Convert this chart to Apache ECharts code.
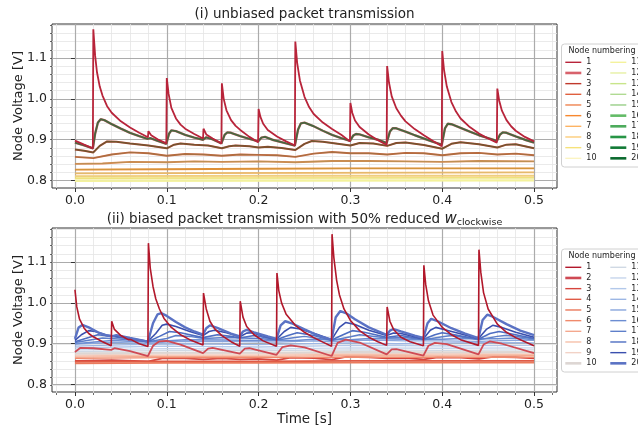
<!DOCTYPE html>
<html><head><meta charset="utf-8">
<script src="https://cdn.jsdelivr.net/npm/echarts@6/dist/echarts.min.js"></script>
<style>html,body{margin:0;padding:0;background:#fff}#c{width:638px;height:427px}</style>
</head><body><div id="c"></div>
<script>
// ---------- tick labels / names ----------
const nodeLabels = ['1','2','3','4','5','6','7','8','9','10','11','12','13','14','15','16','17','18','19','20'];

// ---------- (i) unbiased: node 1 and symmetric pairs (k, 22-k) ----------
const top1 = [[0,0.898],[0.01,0.888],[0.0195,0.879],[0.02,1.17],[0.022,1.105],[0.024,1.065],[0.027,1.03],[0.03,1.008],[0.035,0.982],[0.04,0.966],[0.05,0.945],[0.06,0.93],[0.07,0.917],[0.0795,0.906],[0.08,0.921],[0.083,0.911],[0.09,0.901],[0.0995,0.891],[0.1,1.051],[0.102,1.012],[0.105,0.978],[0.11,0.952],[0.115,0.937],[0.12,0.927],[0.13,0.914],[0.1395,0.903],[0.14,0.927],[0.143,0.913],[0.15,0.903],[0.1595,0.891],[0.16,1.038],[0.162,1.0],[0.165,0.972],[0.17,0.948],[0.175,0.934],[0.18,0.924],[0.19,0.907],[0.1995,0.894],[0.2,0.975],[0.202,0.956],[0.205,0.939],[0.21,0.924],[0.22,0.908],[0.23,0.896],[0.2395,0.886],[0.24,1.14],[0.242,1.088],[0.245,1.045],[0.25,1.005],[0.255,0.98],[0.26,0.963],[0.27,0.942],[0.28,0.926],[0.29,0.912],[0.2995,0.896],[0.3,0.99],[0.302,0.966],[0.305,0.947],[0.31,0.931],[0.32,0.913],[0.33,0.899],[0.3395,0.887],[0.34,1.08],[0.342,1.04],[0.345,1.006],[0.35,0.977],[0.355,0.959],[0.36,0.945],[0.37,0.926],[0.38,0.911],[0.39,0.897],[0.3995,0.884],[0.4,1.117],[0.402,1.07],[0.405,1.03],[0.41,0.992],[0.415,0.969],[0.42,0.952],[0.43,0.931],[0.44,0.915],[0.45,0.903],[0.4595,0.893],[0.46,1.025],[0.462,0.996],[0.465,0.971],[0.47,0.948],[0.475,0.933],[0.48,0.922],[0.49,0.907],[0.5,0.896]];
const topP2 = [[0,0.893],[0.01,0.886],[0.0195,0.879],[0.022,0.915],[0.025,0.942],[0.028,0.95],[0.032,0.948],[0.04,0.938],[0.05,0.927],[0.06,0.917],[0.07,0.909],[0.079,0.902],[0.082,0.904],[0.09,0.897],[0.0995,0.89],[0.1025,0.915],[0.105,0.923],[0.11,0.921],[0.12,0.912],[0.13,0.905],[0.1395,0.9],[0.143,0.906],[0.15,0.901],[0.1595,0.891],[0.163,0.912],[0.166,0.918],[0.17,0.917],[0.18,0.909],[0.19,0.902],[0.1995,0.896],[0.203,0.905],[0.207,0.907],[0.215,0.9],[0.23,0.891],[0.2395,0.886],[0.243,0.925],[0.246,0.94],[0.25,0.942],[0.26,0.933],[0.27,0.922],[0.28,0.912],[0.29,0.904],[0.2995,0.897],[0.303,0.91],[0.306,0.914],[0.31,0.913],[0.32,0.906],[0.33,0.9],[0.3395,0.892],[0.343,0.92],[0.346,0.928],[0.35,0.928],[0.36,0.92],[0.37,0.911],[0.38,0.903],[0.39,0.895],[0.3995,0.888],[0.403,0.928],[0.406,0.939],[0.41,0.938],[0.42,0.929],[0.43,0.92],[0.44,0.911],[0.45,0.904],[0.4595,0.897],[0.463,0.913],[0.466,0.918],[0.47,0.917],[0.48,0.908],[0.49,0.9],[0.5,0.893]];
const topP3 = [[0,0.876],[0.01,0.873],[0.02,0.869],[0.027,0.885],[0.035,0.896],[0.045,0.895],[0.06,0.891],[0.08,0.886],[0.1,0.879],[0.108,0.888],[0.115,0.891],[0.13,0.888],[0.145,0.886],[0.16,0.879],[0.168,0.884],[0.175,0.886],[0.19,0.884],[0.2,0.881],[0.21,0.883],[0.225,0.88],[0.24,0.875],[0.25,0.89],[0.258,0.897],[0.27,0.895],[0.29,0.889],[0.3,0.886],[0.31,0.892],[0.325,0.891],[0.34,0.885],[0.35,0.892],[0.36,0.893],[0.38,0.887],[0.4,0.878],[0.41,0.89],[0.42,0.894],[0.44,0.889],[0.46,0.881],[0.47,0.888],[0.48,0.889],[0.5,0.879]];
const topP4 = [[0,0.858],[0.02,0.855],[0.04,0.864],[0.06,0.869],[0.08,0.867],[0.1,0.861],[0.12,0.865],[0.14,0.864],[0.16,0.861],[0.18,0.864],[0.2,0.863],[0.22,0.862],[0.24,0.858],[0.26,0.866],[0.28,0.87],[0.3,0.867],[0.32,0.867],[0.34,0.864],[0.36,0.868],[0.38,0.867],[0.4,0.862],[0.42,0.867],[0.44,0.868],[0.46,0.864],[0.48,0.866],[0.5,0.862]];
const topP5 = [[0,0.841],[0.03,0.842],[0.06,0.846],[0.1,0.845],[0.13,0.847],[0.16,0.846],[0.2,0.847],[0.24,0.845],[0.28,0.848],[0.32,0.848],[0.36,0.847],[0.4,0.846],[0.44,0.848],[0.5,0.847]];
const topP6 = [[0,0.827],[0.1,0.828],[0.2,0.829],[0.3,0.83],[0.4,0.83],[0.5,0.83]];
const topP7 = [[0,0.818],[0.25,0.819],[0.5,0.82]];
const topP8 = [[0,0.811],[0.25,0.812],[0.5,0.812]];
const topP9 = [[0,0.806],[0.5,0.807]];
const topP10 = [[0,0.802],[0.5,0.803]];
const top11 = [[0,0.799],[0.5,0.8]];

// ---------- (ii) biased ----------
const bot1 = [[0,1.032],[0.002,0.99],[0.005,0.96],[0.01,0.938],[0.015,0.925],[0.02,0.917],[0.03,0.905],[0.0395,0.895],[0.04,0.955],[0.043,0.935],[0.05,0.92],[0.058,0.91],[0.06,0.908],[0.061,0.91],[0.07,0.9],[0.0795,0.893],[0.08,1.146],[0.082,1.085],[0.085,1.04],[0.088,1.01],[0.092,0.985],[0.097,0.962],[0.105,0.94],[0.115,0.922],[0.125,0.91],[0.1395,0.897],[0.14,1.024],[0.143,0.985],[0.147,0.955],[0.152,0.937],[0.16,0.92],[0.17,0.905],[0.1795,0.894],[0.18,1.004],[0.183,0.965],[0.187,0.942],[0.195,0.922],[0.205,0.907],[0.2195,0.894],[0.22,1.073],[0.222,1.03],[0.225,1.0],[0.23,0.972],[0.24,0.945],[0.25,0.928],[0.26,0.915],[0.27,0.904],[0.2795,0.894],[0.28,1.168],[0.282,1.11],[0.285,1.055],[0.288,1.02],[0.293,0.985],[0.3,0.957],[0.31,0.932],[0.32,0.916],[0.33,0.905],[0.3395,0.896],[0.34,0.99],[0.343,0.955],[0.347,0.935],[0.355,0.916],[0.365,0.905],[0.3795,0.895],[0.38,1.092],[0.382,1.045],[0.385,1.005],[0.39,0.97],[0.4,0.94],[0.41,0.922],[0.42,0.91],[0.4395,0.896],[0.44,1.13],[0.442,1.075],[0.445,1.025],[0.45,0.985],[0.46,0.948],[0.47,0.928],[0.48,0.915],[0.49,0.905],[0.5,0.895]];
const bot2 = [[0,0.88],[0.006,0.89],[0.02,0.889],[0.0395,0.885],[0.043,0.889],[0.06,0.882],[0.0795,0.87],[0.085,0.895],[0.092,0.906],[0.1,0.907],[0.115,0.898],[0.1395,0.877],[0.145,0.888],[0.15,0.89],[0.1795,0.876],[0.185,0.888],[0.19,0.889],[0.2195,0.873],[0.226,0.892],[0.235,0.896],[0.25,0.891],[0.2795,0.87],[0.286,0.902],[0.295,0.91],[0.31,0.903],[0.3395,0.874],[0.345,0.886],[0.35,0.887],[0.3795,0.871],[0.385,0.895],[0.392,0.902],[0.405,0.899],[0.4395,0.874],[0.445,0.898],[0.452,0.906],[0.465,0.9],[0.5,0.877]];
const bot3 = [[0,0.858],[0.04,0.86],[0.08,0.857],[0.095,0.864],[0.12,0.864],[0.14,0.862],[0.16,0.864],[0.18,0.862],[0.2,0.863],[0.22,0.86],[0.235,0.866],[0.26,0.865],[0.28,0.861],[0.295,0.868],[0.32,0.867],[0.34,0.864],[0.36,0.865],[0.38,0.862],[0.395,0.867],[0.42,0.866],[0.44,0.863],[0.455,0.868],[0.48,0.867],[0.5,0.864]];
const bot4 = [[0,0.856],[0.1,0.857],[0.2,0.857],[0.3,0.858],[0.4,0.858],[0.5,0.858]];
const bot5 = [[0,0.852],[0.1,0.853],[0.2,0.853],[0.3,0.854],[0.4,0.854],[0.5,0.854]];
const bot6 = [[0,0.864],[0.1,0.866],[0.2,0.866],[0.3,0.867],[0.4,0.867],[0.5,0.867]];
const bot7 = [[0,0.867],[0.1,0.869],[0.2,0.869],[0.3,0.871],[0.4,0.87],[0.5,0.871]];
const bot8 = [[0,0.87],[0.1,0.872],[0.2,0.872],[0.3,0.874],[0.4,0.873],[0.5,0.874]];
const bot9 = [[0,0.873],[0.1,0.875],[0.2,0.875],[0.3,0.877],[0.4,0.876],[0.5,0.877]];
const bot10 = [[0,0.876],[0.1,0.878],[0.2,0.878],[0.3,0.88],[0.4,0.879],[0.5,0.88]];
const bot11 = [[0,0.881],[0.1,0.883],[0.2,0.883],[0.3,0.885],[0.4,0.884],[0.5,0.885]];
const bot12 = [[0,0.885],[0.1,0.888],[0.2,0.887],[0.3,0.89],[0.4,0.889],[0.5,0.89]];
const bot13 = [[0,0.89],[0.05,0.892],[0.1,0.894],[0.2,0.892],[0.3,0.896],[0.4,0.895],[0.5,0.896]];
const bot14 = [[0,0.894],[0.05,0.897],[0.11,0.9],[0.2,0.898],[0.3,0.902],[0.35,0.9],[0.41,0.902],[0.47,0.903],[0.5,0.902]];
const bot15 = [[0,0.899],[0.04,0.903],[0.08,0.901],[0.11,0.906],[0.14,0.905],[0.18,0.905],[0.22,0.904],[0.26,0.907],[0.28,0.905],[0.32,0.909],[0.36,0.907],[0.4,0.907],[0.44,0.906],[0.48,0.909],[0.5,0.908]];
const bot16 = [[0,0.9],[0.04,0.908],[0.08,0.904],[0.12,0.91],[0.16,0.909],[0.2,0.908],[0.24,0.908],[0.26,0.911],[0.3,0.91],[0.32,0.913],[0.36,0.911],[0.4,0.911],[0.42,0.913],[0.46,0.912],[0.48,0.914],[0.5,0.91]];
const bot17 = [[0,0.903],[0.03,0.914],[0.06,0.91],[0.08,0.905],[0.1,0.913],[0.11,0.92],[0.125,0.918],[0.14,0.913],[0.165,0.915],[0.2,0.913],[0.22,0.909],[0.24,0.915],[0.25,0.918],[0.28,0.908],[0.3,0.917],[0.31,0.922],[0.34,0.914],[0.36,0.915],[0.38,0.91],[0.4,0.917],[0.41,0.92],[0.44,0.91],[0.46,0.918],[0.47,0.921],[0.5,0.912]];
const bot18 = [[0,0.905],[0.015,0.915],[0.025,0.922],[0.04,0.918],[0.06,0.912],[0.0795,0.905],[0.092,0.918],[0.103,0.93],[0.115,0.927],[0.1395,0.915],[0.155,0.922],[0.17,0.918],[0.1795,0.914],[0.195,0.92],[0.2195,0.91],[0.232,0.92],[0.242,0.927],[0.26,0.92],[0.2795,0.909],[0.292,0.922],[0.302,0.932],[0.315,0.928],[0.3395,0.916],[0.355,0.92],[0.3795,0.911],[0.392,0.922],[0.4,0.927],[0.415,0.921],[0.4395,0.911],[0.452,0.925],[0.462,0.93],[0.48,0.922],[0.5,0.913]];
const bot19 = [[0,0.908],[0.007,0.922],[0.015,0.932],[0.022,0.93],[0.035,0.921],[0.05,0.917],[0.0795,0.906],[0.088,0.925],[0.095,0.945],[0.1,0.948],[0.11,0.942],[0.125,0.93],[0.1395,0.92],[0.146,0.93],[0.152,0.933],[0.165,0.927],[0.1795,0.917],[0.187,0.926],[0.192,0.927],[0.2195,0.911],[0.228,0.93],[0.235,0.94],[0.245,0.936],[0.265,0.922],[0.2795,0.91],[0.288,0.94],[0.295,0.952],[0.305,0.947],[0.32,0.933],[0.3395,0.92],[0.347,0.926],[0.355,0.925],[0.3795,0.912],[0.387,0.933],[0.393,0.94],[0.405,0.933],[0.4395,0.913],[0.448,0.935],[0.455,0.945],[0.465,0.94],[0.48,0.928],[0.5,0.916]];
const bot20 = [[0,0.912],[0.004,0.94],[0.008,0.946],[0.015,0.94],[0.025,0.928],[0.035,0.92],[0.04,0.918],[0.045,0.921],[0.06,0.914],[0.0795,0.905],[0.085,0.95],[0.09,0.972],[0.094,0.975],[0.1,0.968],[0.11,0.953],[0.12,0.94],[0.13,0.93],[0.1395,0.922],[0.143,0.938],[0.147,0.945],[0.155,0.939],[0.17,0.925],[0.1795,0.918],[0.183,0.93],[0.187,0.934],[0.195,0.928],[0.21,0.918],[0.2195,0.912],[0.224,0.945],[0.229,0.955],[0.236,0.95],[0.25,0.935],[0.265,0.92],[0.2795,0.91],[0.284,0.965],[0.289,0.98],[0.295,0.975],[0.305,0.96],[0.32,0.94],[0.3395,0.922],[0.343,0.932],[0.347,0.936],[0.355,0.93],[0.37,0.92],[0.3795,0.914],[0.384,0.95],[0.388,0.961],[0.395,0.955],[0.41,0.938],[0.425,0.925],[0.4395,0.914],[0.444,0.958],[0.449,0.971],[0.455,0.966],[0.47,0.948],[0.485,0.932],[0.5,0.921]];

// ---------- build ----------
const topData = [top1, topP2, topP3, topP4, topP5, topP6, topP7, topP8, topP9, topP10, top11, topP10, topP9, topP8, topP7, topP6, topP5, topP4, topP3, topP2];
const botData = [bot1, bot2, bot3, bot4, bot5, bot6, bot7, bot8, bot9, bot10, bot11, bot12, bot13, bot14, bot15, bot16, bot17, bot18, bot19, bot20];

const topColors = ['#b8243a','#d8626c','#c0392b','#e0603f','#ef8450','#f7882e','#fdb363','#fdcd7a','#f6e27a','#fbf4c2','#f4f29c','#e6f0a4','#c8e58a','#b0da92','#98cf88','#63bb67','#4dab5c','#279546','#127a36','#0b6a2e'];
const topWidths = [1.8,2.4,2.0,1.9,1.9,1.9,1.8,1.8,1.8,1.8,1.8,1.2,1.2,1.2,1.2,1.3,1.3,1.4,1.5,1.9];
const topOpac  = [1,1,1,1,1,1,1,1,1,1,1,0.2,0.2,0.25,0.25,0.25,0.3,0.3,0.45,0.7];
const topLegW = [1.4,2.6,1.4,1.4,1.4,1.4,1.4,1.4,1.4,1.4,1.4,1.4,1.4,1.4,1.4,2.6,2.6,2.6,2.6,2.6];
const botColors = ['#b2182b','#cf4a54','#d6453d','#e05a46','#ea7a5c','#f08a6c','#f4a88e','#f6c0aa','#f2d2c6','#ddd6d3','#d0d9e4','#c6d5ec','#b2c8ea','#9cb6e4','#88a5dc','#6c8dd2','#5e7fca','#4e6ec2','#3a4fae','#5a72c4'];
const botWidths = [1.6,1.8,1.8,1.8,1.8,1.3,1.3,1.3,1.3,2.0,1.3,1.3,1.3,1.3,1.3,1.5,1.5,1.6,1.6,2.4];
const botLegW = [1.4,2.6,1.4,1.4,1.4,1.4,1.4,1.4,1.4,2.6,1.4,1.4,1.4,1.4,1.4,1.4,1.4,1.4,1.4,2.6];

const FONT = 'DejaVu Sans';
const xMin = -0.025, xMax = 0.525, yMin = 0.782, yMax = 1.183;
const minorXMin = -0.02, minorXMax = 0.52, minorYMin = 0.8, minorYMax = 1.18, minorStep = 0.02;
const P = [{left:52, top:24, width:505, height:164}, {left:52, top:228, width:505, height:165}];

const grids = [], xAxes = [], yAxes = [];
P.forEach((p) => {
  grids.push({left:p.left, top:p.top, width:p.width, height:p.height, show:true, borderColor:'#333', borderWidth:1, backgroundColor:'transparent'});
});
P.forEach((p) => {
  grids.push({left: p.left + (minorXMin - xMin) / (xMax - xMin) * p.width, width: (minorXMax - minorXMin) / (xMax - xMin) * p.width, top: p.top, height: p.height, show:false});
  grids.push({left: p.left, width: p.width, top: p.top + (yMax - minorYMax) / (yMax - yMin) * p.height, height: (minorYMax - minorYMin) / (yMax - yMin) * p.height, show:false});
});
const fmt1 = v => v.toFixed(1);
[0,1].forEach(g => {
  xAxes.push({type:'value', gridIndex:g, min:xMin, max:xMax, splitNumber:5, z:2,
    axisLine:{show:false}, axisTick:{show:true, length:4, lineStyle:{color:'#333', width:1}},
    axisLabel:{showMinLabel:false, showMaxLabel:false, formatter:fmt1, fontFamily:FONT, fontSize:12.5, color:'#222', margin:6},
    splitLine:{show:true, showMinLine:false, showMaxLine:false, lineStyle:{color:'#ababab', width:1.2}},
    name: g === 1 ? 'Time [s]' : '', nameLocation:'middle', nameGap:20, nameTextStyle:{fontFamily:FONT, fontSize:13.5, color:'#222'}});
  yAxes.push({type:'value', gridIndex:g, min:yMin, max:yMax, splitNumber:4, z:2,
    axisLine:{show:false}, axisTick:{show:true, length:4, lineStyle:{color:'#333', width:1}},
    axisLabel:{showMinLabel:false, showMaxLabel:false, formatter:fmt1, fontFamily:FONT, fontSize:12.5, color:'#222', margin:5},
    splitLine:{show:true, showMinLine:false, showMaxLine:false, lineStyle:{color:'#ababab', width:1.2}},
    name:'Node Voltage [V]', nameLocation:'middle', nameGap:27, nameMoveOverlap:false,
    nameTextStyle:{fontFamily:FONT, fontSize:13, color:'#222'}});
});
[0,1].forEach(g => {
  const gx = 2 + g * 2, gy = 3 + g * 2;
  xAxes.push({type:'value', gridIndex:gx, min:minorXMin, max:minorXMax, interval:minorStep, z:0,
    axisLine:{show:false}, axisLabel:{show:false}, axisTick:{show:true, length:2, lineStyle:{color:'#444', width:0.8}},
    splitLine:{show:true, lineStyle:{color:'#e4e4e4', width:0.8}}});
  yAxes.push({type:'value', gridIndex:gx, min:0, max:1, show:false});
  xAxes.push({type:'value', gridIndex:gy, min:0, max:1, show:false});
  yAxes.push({type:'value', gridIndex:gy, min:minorYMin, max:minorYMax, interval:minorStep, z:0,
    axisLine:{show:false}, axisLabel:{show:false}, axisTick:{show:true, length:2, lineStyle:{color:'#444', width:0.8}},
    splitLine:{show:true, lineStyle:{color:'#e4e4e4', width:0.8}}});
});

const series = [];
function addSeries(prefix, i, data, axis, color, width, opacity, z) {
  series.push({type:'line', name: prefix + nodeLabels[i], data: data, xAxisIndex: axis, yAxisIndex: axis,
    symbol:'none', showSymbol:false, silent:true, animation:false, z: z,
    lineStyle:{color: color, width: width, opacity: opacity}, itemStyle:{color: color}});
}
for (let i = 1; i < 20; i++) addSeries('t', i, topData[i], 0, topColors[i], topWidths[i], topOpac[i], i < 10 ? 2 : 3);
addSeries('t', 0, topData[0], 0, topColors[0], topWidths[0], 1, 4);
for (let i = 2; i < 20; i++) addSeries('b', i, botData[i], 1, botColors[i], botWidths[i], 1, 2);
addSeries('b', 1, botData[1], 1, botColors[1], botWidths[1], 1, 3);
addSeries('b', 0, botData[0], 1, botColors[0], botWidths[0], 1, 4);

function legendCol(prefix, from, left, top, legW) {
  const data = [];
  for (let i = from; i < from + 10; i++) data.push({name: prefix + nodeLabels[i], lineStyle:{width: legW[i], opacity:1}});
  return {show:true, orient:'vertical', left:left, top:top, padding:0, itemGap:1.67, itemWidth:16, itemHeight:9,
    selectedMode:false, data:data, formatter: n => n.slice(1),
    itemStyle:{color:'rgba(0,0,0,0)', borderWidth:0, opacity:0},
    textStyle:{fontFamily:FONT, fontSize:8, lineHeight:9, color:'#222'}};
}
const legends = [
  legendCol('t', 0, 564, 57.8, topLegW), legendCol('t', 10, 609, 57.8, topLegW),
  legendCol('b', 0, 564, 262.8, botLegW), legendCol('b', 10, 609, 262.8, botLegW)
];

const graphic = [
  {type:'rect', shape:{x:561.5, y:44, width:100, height:123, r:3}, style:{fill:'#fff', stroke:'#d0d0d0', lineWidth:1}, z:1},
  {type:'rect', shape:{x:561.5, y:249, width:100, height:123, r:3}, style:{fill:'#fff', stroke:'#d0d0d0', lineWidth:1}, z:1},
  {type:'text', x:602, y:51, z:5, style:{text:'Node numbering', fontFamily:FONT, fontSize:8, fill:'#222', align:'center', verticalAlign:'middle'}},
  {type:'text', x:602, y:256, z:5, style:{text:'Node numbering', fontFamily:FONT, fontSize:8, fill:'#222', align:'center', verticalAlign:'middle'}},
  {type:'text', x:304.5, y:14, z:5, style:{text:'(i) unbiased packet transmission', fontFamily:FONT, fontSize:13.5, fill:'#222', align:'center', verticalAlign:'middle'}},
  {type:'text', x:304.5, y:219, z:5, style:{text:'{n|(ii) biased packet transmission with 50% reduced }{w|w}{s|clockwise}', align:'center', verticalAlign:'middle',
    rich:{n:{fontFamily:FONT, fontSize:13.5, fill:'#222', lineHeight:18, verticalAlign:'middle'},
          w:{fontFamily:FONT, fontSize:15, fontStyle:'italic', fill:'#222', lineHeight:18, verticalAlign:'middle'},
          s:{fontFamily:FONT, fontSize:9.5, fill:'#222', lineHeight:10, verticalAlign:'bottom'}}}}
];

const chart = echarts.init(document.getElementById('c'), null, {renderer:'canvas'});
chart.setOption({
  animation:false, backgroundColor:'#fff',
  textStyle:{fontFamily:FONT},
  grid:grids, xAxis:xAxes, yAxis:yAxes, series:series, legend:legends, graphic:graphic
});
</script></body></html>
